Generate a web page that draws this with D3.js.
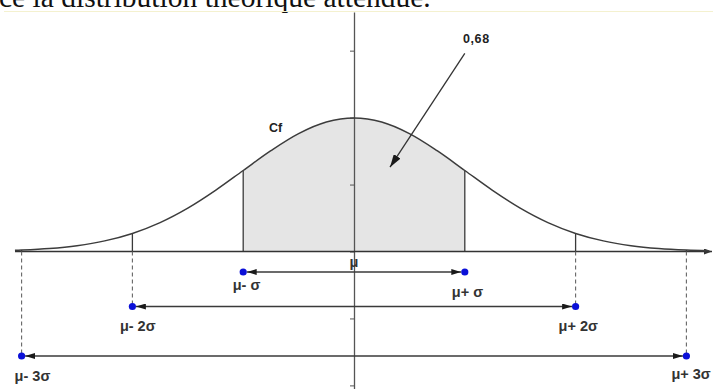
<!DOCTYPE html>
<html>
<head>
<meta charset="utf-8">
<script src="https://cdn.jsdelivr.net/npm/d3@7"></script>
<style>
  html, body { margin: 0; padding: 0; background: #fff; overflow: hidden; }
  svg { display: block; }
</style>
</head>
<body>
<script>
// Density curve Cf, sampled in units of σ around μ
const zValues = [-3.06, -3, -2.75, -2.5, -2.25, -2, -1.75, -1.5, -1.25, -1, -0.75, -0.5, -0.25,
                 0, 0.25, 0.5, 0.75, 1, 1.25, 1.5, 1.75, 2, 2.25, 2.5, 2.75, 3, 3.2];
const density = [0.0037, 0.0044, 0.0091, 0.0175, 0.0317, 0.054, 0.0863, 0.1295, 0.1826, 0.242, 0.3011, 0.3521, 0.3867,
                 0.3989, 0.3867, 0.3521, 0.3011, 0.242, 0.1826, 0.1295, 0.0863, 0.054, 0.0317, 0.0175, 0.0091, 0.0044, 0.0024];

// Intervals μ ± kσ
const intervalK = [1, 2, 3];
const lowerLabels = ["μ- σ", "μ- 2σ", "μ- 3σ"];
const upperLabels = ["μ+ σ", "μ+ 2σ", "μ+ 3σ"];

// Vertical axis ticks (density units)
const yTicks = [-0.4, -0.2, 0, 0.2, 0.4, 0.6];

const curveLabel = "Cf";
const areaLabel = "0,68";
const centerLabel = "μ";
const caption = "ce la distribution théorique attendue.";

const W = 713, H = 389;
const svg = d3.select("body").append("svg").attr("width", W).attr("height", H);

const x = d3.scaleLinear().domain([-3, 3]).range([21.6, 686.4]);
const y = d3.scaleLinear().domain([0, 0.4]).range([251.5, 117.6]);

const ink = "#3a3a3a";
const sans = "'Liberation Sans', Arial, sans-serif";

const defs = svg.append("defs");
defs.append("marker")
  .attr("id", "tip").attr("viewBox", "0 0 10 6")
  .attr("refX", 10).attr("refY", 3)
  .attr("markerUnits", "userSpaceOnUse")
  .attr("markerWidth", 10).attr("markerHeight", 6)
  .attr("orient", "auto-start-reverse")
  .append("path").attr("d", "M0,0 L10,3 L0,6 Z").attr("fill", "#1a1a1a");
defs.append("marker")
  .attr("id", "bigtip").attr("viewBox", "0 0 13 8")
  .attr("refX", 13).attr("refY", 4)
  .attr("markerUnits", "userSpaceOnUse")
  .attr("markerWidth", 13).attr("markerHeight", 8)
  .attr("orient", "auto")
  .append("path").attr("d", "M0,0 L13,4 L0,8 Z").attr("fill", "#1a1a1a");
defs.append("marker")
  .attr("id", "axistip").attr("viewBox", "0 0 8 6")
  .attr("refX", 8).attr("refY", 3)
  .attr("markerUnits", "userSpaceOnUse")
  .attr("markerWidth", 8).attr("markerHeight", 6)
  .attr("orient", "auto")
  .append("path").attr("d", "M0,0 L8,3 L0,6 Z").attr("fill", "#333");

// Page text running above the figure
svg.append("text")
  .attr("x", -1).attr("y", 7)
  .attr("font-family", "'Liberation Serif', 'Times New Roman', serif")
  .attr("font-size", 29.5)
  .attr("fill", "#111")
  .text(caption);
svg.append("line")
  .attr("x1", 4).attr("x2", W).attr("y1", 11.5).attr("y2", 11.5)
  .attr("stroke", "#f4f1cf").attr("stroke-width", 1);

const pts = zValues.map((z, i) => ({ z, d: density[i] }));
const dOf = z => density[zValues.indexOf(z)];

// Shaded area between μ-σ and μ+σ
const inner = pts.filter(p => p.z >= -1 && p.z <= 1);
svg.append("path")
  .datum(inner)
  .attr("d", d3.area().x(p => x(p.z)).y0(y(0)).y1(p => y(p.d)).curve(d3.curveCatmullRom))
  .attr("fill", "#e5e5e5");

// Vertical drops from the curve at ±σ, ±2σ, ±3σ
intervalK.forEach(k => {
  [-k, k].forEach(z => {
    svg.append("line")
      .attr("x1", x(z)).attr("x2", x(z))
      .attr("y1", y(0)).attr("y2", y(dOf(z)))
      .attr("stroke", ink).attr("stroke-width", 1.3);
  });
});

// Axes
const yAxisScale = d3.scaleLinear().domain([y.invert(H), y.invert(12)]).range([H, 12]);
const yAxis = svg.append("g")
  .attr("transform", `translate(${x(0)},0)`)
  .call(d3.axisLeft(yAxisScale).tickValues(yTicks).tickSize(4).tickSizeOuter(0).tickFormat(""));
yAxis.select(".domain").attr("stroke", "#555").attr("stroke-width", 1.3);
yAxis.selectAll(".tick line").attr("stroke", "#555");

svg.append("line")
  .attr("x1", 15).attr("x2", W - 1)
  .attr("y1", y(0)).attr("y2", y(0))
  .attr("stroke", "#333").attr("stroke-width", 1.4)
  .attr("marker-end", "url(#axistip)");

// Density curve
svg.append("path")
  .datum(pts)
  .attr("d", d3.line().x(p => x(p.z)).y(p => y(p.d)).curve(d3.curveCatmullRom))
  .attr("fill", "none").attr("stroke", "#3c3c3c").attr("stroke-width", 1.5);

// Interval arrows below the axis
const rowOffset = [20.5, 55, 104.5];
const lowerDx = [-10.5, -12.5, -7];
const upperDx = [-13, -17, -15];
const lowerDy = [17.5, 24.5, 25];
const upperDy = [24.5, 24.5, 23];

intervalK.forEach((k, i) => {
  const ry = y(0) + rowOffset[i];
  const xl = x(-k), xr = x(k);
  if (k > 1) {
    [xl, xr].forEach(xx => {
      svg.append("line")
        .attr("x1", xx).attr("x2", xx)
        .attr("y1", y(0)).attr("y2", ry)
        .attr("stroke", "#666").attr("stroke-width", 1.1)
        .attr("stroke-dasharray", "4,3");
    });
  }
  svg.append("line")
    .attr("x1", xl + 3.5).attr("x2", xr - 3.5)
    .attr("y1", ry).attr("y2", ry)
    .attr("stroke", ink).attr("stroke-width", 1.3)
    .attr("marker-start", "url(#tip)")
    .attr("marker-end", "url(#tip)");
  [xl, xr].forEach(xx => {
    svg.append("circle")
      .attr("cx", xx).attr("cy", ry).attr("r", 3.6)
      .attr("fill", "#0b10d8");
  });
  svg.append("text")
    .attr("x", xl + lowerDx[i]).attr("y", ry + lowerDy[i])
    .attr("font-family", sans).attr("font-weight", "bold")
    .attr("font-size", 14.5).attr("fill", "#333")
    .text(lowerLabels[i]);
  svg.append("text")
    .attr("x", xr + upperDx[i]).attr("y", ry + upperDy[i])
    .attr("font-family", sans).attr("font-weight", "bold")
    .attr("font-size", 14.5).attr("fill", "#333")
    .text(upperLabels[i]);
});

// μ under the axis
svg.append("text")
  .attr("x", x(0)).attr("y", y(0) + 15)
  .attr("text-anchor", "middle")
  .attr("font-family", sans).attr("font-weight", "bold")
  .attr("font-size", 14.5).attr("fill", "#333")
  .text(centerLabel);

// Curve name
svg.append("text")
  .attr("x", 269).attr("y", 132)
  .attr("font-family", sans).attr("font-weight", "bold")
  .attr("font-size", 12.5).attr("fill", "#222")
  .text(curveLabel);

// Probability annotation pointing into the shaded area
svg.append("line")
  .attr("x1", x(1)).attr("y1", y(0.592))
  .attr("x2", x(0.325)).attr("y2", y(0.252))
  .attr("stroke", "#333").attr("stroke-width", 1.3)
  .attr("marker-end", "url(#bigtip)");
svg.append("text")
  .attr("x", 463).attr("y", 43)
  .attr("font-family", sans).attr("font-weight", "bold")
  .attr("font-size", 12.5).attr("letter-spacing", 0.6).attr("fill", "#222")
  .text(areaLabel);
</script>
</body>
</html>
